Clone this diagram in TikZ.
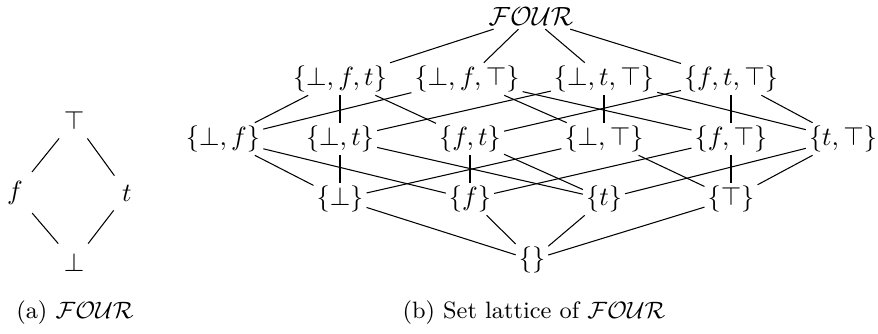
\documentclass[tikz,border=0pt]{standalone}
\usetikzlibrary{positioning}

\begin{document}
\begin{tikzpicture}[x=0.38pt, y=-0.38pt, elem/.style={inner sep=1pt}]

\useasboundingbox (0,0) rectangle (878,333);

% (a) the four values
\node (top) at (74,120) {$\top$};
\node (f) at (15,193) {$f$};
\node (t) at (127,193) {$t$};
\node (bot) at (74,262) {$\bot$};

\draw (top) -- (f);
\draw (top) -- (t);
\draw (f) -- (bot);
\draw (t) -- (bot);

\node (capa) at (75,313) {\small (a) $\mathcal{FOUR}$};

% (b) top
\node[elem] (four) at (531,17) {$\mathcal{FOUR}$};

% three elements
\node[elem] (bft) at (340,79) {$\{\bot,f,t\}$};
\node[elem] (bfT) at (467,79) {$\{\bot,f,\top\}$};
\node[elem] (btT) at (604,79) {$\{\bot,t,\top\}$};
\node[elem] (ftT) at (731,79) {$\{f,t,\top\}$};

% two elements
\node[elem] (bf) at (223,139) {$\{\bot,f\}$};
\node[elem] (bt) at (340,139) {$\{\bot,t\}$};
\node[elem] (ft) at (470,139) {$\{f,t\}$};
\node[elem] (bT) at (604,139) {$\{\bot,\top\}$};
\node[elem] (fT) at (731,139) {$\{f,\top\}$};
\node[elem] (tT) at (843,139) {$\{t,\top\}$};

% one element
\node[elem] (sb) at (340,199) {$\{\bot\}$};
\node[elem] (sf) at (470,199) {$\{f\}$};
\node[elem] (st) at (604,199) {$\{t\}$};
\node[elem] (sT) at (731,199) {$\{\top\}$};

% empty set
\node[elem] (empty) at (532,260) {$\{\}$};

% Lines
\draw (four) -- (bft);
\draw (four) -- (bfT);
\draw (four) -- (btT);
\draw (four) -- (ftT);

\draw (bft) -- (bf);
\draw (bft) -- (bt);
\draw (bft) -- (ft);
\draw (bfT) -- (bf);
\draw (bfT) -- (bT);
\draw (bfT) -- (fT);
\draw (btT) -- (bt);
\draw (btT) -- (bT);
\draw (btT) -- (tT);
\draw (ftT) -- (ft);
\draw (ftT) -- (fT);
\draw (ftT) -- (tT);

\draw (bf) -- (sb);
\draw (bf) -- (sf);
\draw (bt) -- (sb);
\draw (bt) -- (st);
\draw (ft) -- (sf);
\draw (ft) -- (st);
\draw (bT) -- (sb);
\draw (bT) -- (sT);
\draw (fT) -- (sf);
\draw (fT) -- (sT);
\draw (tT) -- (st);
\draw (tT) -- (sT);

\draw (sb) -- (empty);
\draw (sf) -- (empty);
\draw (st) -- (empty);
\draw (sT) -- (empty);

\node (capb) at (534,313) {\small (b) Set lattice of $\mathcal{FOUR}$};

\end{tikzpicture}
\end{document}
